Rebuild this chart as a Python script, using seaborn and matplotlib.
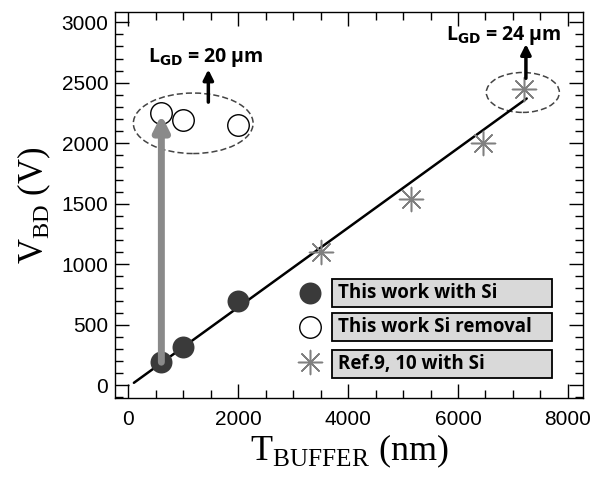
import matplotlib
matplotlib.use("Agg")
import matplotlib.pyplot as plt
import seaborn as sns
from matplotlib.patches import Ellipse, Rectangle
from matplotlib.ticker import MultipleLocator

# Breakdown voltage vs buffer thickness
si_x = [600, 1000, 2000]
si_y = [190, 320, 700]
removal_x = [600, 1000, 2000]
removal_y = [2250, 2190, 2150]
ref_x = [3500, 5150, 6450, 7200]
ref_y = [1100, 1540, 2000, 2450]
fit_x = [100, 7250]
fit_y = [20, 2370]
legend_labels = ["This work with Si", "This work Si removal", "Ref.9, 10 with Si"]

sns.set_style("ticks")
plt.rcParams["font.family"] = ["Liberation Sans", "DejaVu Sans"]
plt.rcParams["mathtext.fontset"] = "custom"
plt.rcParams["mathtext.rm"] = "Liberation Serif"
plt.rcParams["text.color"] = "black"
plt.rcParams["axes.labelcolor"] = "black"

fig = plt.figure(figsize=(5.97, 4.80), dpi=100)
ax = fig.add_axes([0.193, 0.171, 0.784, 0.804])

sns.lineplot(x=fit_x, y=fit_y, ax=ax, color="black", lw=1.8, zorder=2)
sns.scatterplot(x=si_x, y=si_y, ax=ax, s=250, color="#3a3a3a",
                edgecolor="#3a3a3a", linewidth=0, zorder=3)
sns.scatterplot(x=removal_x, y=removal_y, ax=ax, s=240, facecolor="white",
                edgecolor="black", linewidth=1.0, zorder=3)
sns.scatterplot(x=ref_x, y=ref_y, ax=ax, s=300, marker=(8, 2, 0),
                color="#808080", edgecolor="#808080", linewidth=1.1, zorder=3)

# grey arrow from Si device to Si-removed device
ax.annotate("", xy=(removal_x[0], removal_y[0] - 15), xytext=(si_x[0], si_y[0]),
            arrowprops=dict(arrowstyle="-|>,head_width=0.45,head_length=0.9",
                            color="#8a8a8a", lw=5, shrinkA=0, shrinkB=0),
            zorder=4)

# dashed groups
ax.add_patch(Ellipse((1180, 2165), 2180, 500, fill=False, ls=(0, (4, 2)),
                     ec="#444444", lw=1.1))
ax.add_patch(Ellipse((7180, 2420), 1330, 330, fill=False, ls=(0, (4, 2)),
                     ec="#444444", lw=1.1))

# black arrows with labels
for x0, y0, y1 in [(1455, 2340, 2610), (7236, 2537, 2820)]:
    ax.annotate("", xy=(x0, y1), xytext=(x0, y0),
                arrowprops=dict(arrowstyle="-|>,head_width=0.3,head_length=0.6",
                                color="black", lw=2.5, shrinkA=0, shrinkB=0))
ax.text(1400, 2710, r"L$_{\mathbf{GD}}$ = 20 μm", ha="center", va="center",
        fontsize=14, fontweight="bold", color="black",
        family=["Open Sans", "DejaVu Sans"])
ax.text(6840, 2890, r"L$_{\mathbf{GD}}$ = 24 μm", ha="center", va="center",
        fontsize=14, fontweight="bold", color="black",
        family=["Open Sans", "DejaVu Sans"])

# legend entries drawn as boxed labels
mark_y = [0.272, 0.184, 0.093]
box_y = [0.272, 0.184, 0.088]
styles = [dict(s=250, c="#3a3a3a", marker="o", linewidths=0),
          dict(s=240, facecolors="white", edgecolors="black", marker="o", linewidths=1.0),
          dict(s=300, c="#808080", marker=(8, 2, 0), linewidths=1.1)]
box_h = 0.0725
for my, by, lab, st in zip(mark_y, box_y, legend_labels, styles):
    ax.scatter([0.417], [my], transform=ax.transAxes, clip_on=False, zorder=5, **st)
    ax.add_patch(Rectangle((0.464, by - box_h / 2), 0.470, box_h,
                           transform=ax.transAxes, fc="#d9d9d9", ec="black",
                           lw=1.3, zorder=5))
    ax.text(0.4765, by, lab, transform=ax.transAxes, ha="left", va="center",
            fontsize=13.5, fontweight="bold", color="black",
            family=["Open Sans", "DejaVu Sans"], zorder=6)

ax.set_xlim(-240, 8280)
ax.set_ylim(-105, 3085)
ax.xaxis.set_major_locator(MultipleLocator(2000))
ax.xaxis.set_minor_locator(MultipleLocator(500))
ax.yaxis.set_major_locator(MultipleLocator(500))
ax.yaxis.set_minor_locator(MultipleLocator(100))
ax.tick_params(which="both", direction="in", top=True, right=True,
               labelsize=15, colors="black", width=1.0)
ax.tick_params(which="major", length=10)
ax.tick_params(which="minor", length=6)
ax.tick_params(axis="x", which="major", pad=9)
ax.tick_params(axis="y", which="major", pad=5)
for sp in ax.spines.values():
    sp.set_linewidth(1.0)
    sp.set_color("black")

ax.set_xlabel(r"T$_{\mathrm{BUFFER}}$ (nm)", fontsize=26, family="Liberation Serif",
              labelpad=2, color="black")
ax.set_ylabel(r"V$_{\mathrm{BD}}$ (V)", fontsize=25, family="Liberation Serif",
              labelpad=6, color="black")

fig.savefig("out.png", dpi=100)
